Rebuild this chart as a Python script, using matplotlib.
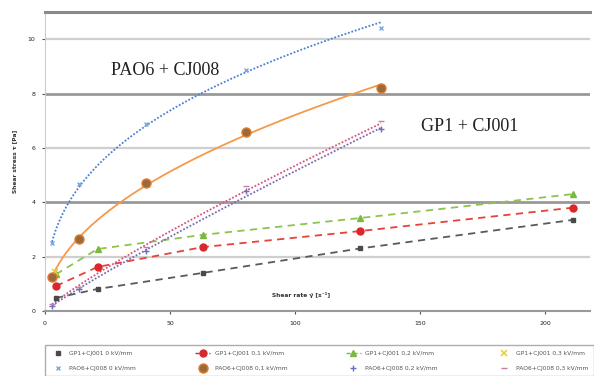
import numpy as np
import matplotlib
matplotlib.use("Agg")
import matplotlib.pyplot as plt
from matplotlib.lines import Line2D

# --- dados (taxa de cisalhamento x tensão) ---
GAMA_GP1 = [4.4, 21, 63, 126, 211]
TAU_GP1_0 = [0.48, 0.81, 1.4, 2.3, 3.35]
TAU_GP1_01 = [0.92, 1.62, 2.35, 2.94, 3.8]
TAU_GP1_02 = [1.35, 2.28, 2.8, 3.42, 4.3]
GAMA_GP1_03 = [4.0]
TAU_GP1_03 = [1.42]

GAMA_PAO = [2.8, 13.6, 40.5, 80.5, 134.4]
TAU_PAO_0 = [2.5, 4.67, 6.87, 8.86, 10.4]
TAU_PAO_01 = [1.25, 2.65, 4.7, 6.58, 8.2]
TAU_PAO_02 = [0.2, 0.8, 2.2, 4.4, 6.7]
TAU_PAO_03 = [0.25, 0.9, 2.35, 4.6, 7.0]

LABELS = [
    "GP1+CJ001 0 kV/mm", "GP1+CJ001 0,1 kV/mm", "GP1+CJ001 0,2 kV/mm", "GP1+CJ001 0,3 kV/mm",
    "PAO6+CJ008 0 kV/mm", "PAO6+CJ008 0,1 kV/mm", "PAO6+CJ008 0,2 kV/mm", "PAO6+CJ008 0,3 kV/mm",
]
X_TICKS = [0, 50, 100, 150, 200]
Y_TICKS = [0, 2, 4, 6, 8, 10]


def tendencia_potencia(x, y, n=200):
    """Linha de tendência tipo potência (como no Excel) a partir dos pontos."""
    b, log_a = np.polyfit(np.log(x), np.log(y), 1)
    xs = np.linspace(min(x), max(x), n)
    return xs, np.exp(log_a) * xs ** b


fig = plt.figure(figsize=(5.94, 3.76), dpi=100)
ax = fig.add_axes([45 / 594, 65 / 376, 545 / 594, 299 / 376])

# GP1: tracejado ligando os pontos
for y, cor in [(TAU_GP1_0, "#5a5a5a"), (TAU_GP1_01, "#e8413a"), (TAU_GP1_02, "#8cc44e")]:
    ax.plot(GAMA_GP1, y, color=cor, linestyle=(0, (4, 3)), linewidth=1.3, zorder=2)

# PAO6: linhas de tendência (potência)
for y, cor, estilo in [(TAU_PAO_0, "#4a7fd6", (0, (1, 1))), (TAU_PAO_01, "#f59a4a", "-"),
                       (TAU_PAO_02, "#7a6bb0", (0, (1, 1))), (TAU_PAO_03, "#d9537a", (0, (1, 1)))]:
    xs, ys = tendencia_potencia(GAMA_PAO, y)
    ax.plot(xs, ys, color=cor, linestyle=estilo, linewidth=1.3, zorder=2)

# pontos medidos
estilos_pontos = [
    (GAMA_GP1, TAU_GP1_0, dict(marker="s", color="#4a4a4a", markersize=2.5)),
    (GAMA_GP1, TAU_GP1_01, dict(marker="o", color="#d8282a", markersize=5)),
    (GAMA_GP1, TAU_GP1_02, dict(marker="^", color="#7cb83e", markersize=4)),
    (GAMA_GP1_03, TAU_GP1_03, dict(marker="x", color="#e2d23c", markersize=4, markeredgewidth=1.2)),
    (GAMA_PAO, TAU_PAO_0, dict(marker="x", color="#7ea9e0", markersize=3.5, markeredgewidth=1)),
    (GAMA_PAO, TAU_PAO_01, dict(marker="o", markerfacecolor="#9a6a3a", markeredgecolor="#e07a30",
                                markersize=6.5, markeredgewidth=1)),
    (GAMA_PAO, TAU_PAO_02, dict(marker="+", color="#6a70c0", markersize=4)),
    (GAMA_PAO, TAU_PAO_03, dict(marker="_", color="#c080a8", markersize=4)),
]
handles = []
for i, (x, y, kw) in enumerate(estilos_pontos):
    ax.plot(x, y, linestyle="none", zorder=3, **kw)
    # GP1 0,1 e 0,2 aparecem na legenda com a linha tracejada
    if i in (1, 2):
        handles.append(Line2D([], [], linestyle=(0, (3, 2)), linewidth=1.0, **kw))
    else:
        handles.append(Line2D([], [], linestyle="none", **kw))

ax.set_xlim(0, 218)
ax.set_ylim(0, 11)
ax.set_xticks(X_TICKS)
ax.set_yticks(Y_TICKS)
ax.tick_params(labelsize=4.5, length=2, colors="#555555", labelcolor="#222222", pad=5)

# grelha: 4 e 8 mais escuras
for v in Y_TICKS[1:]:
    escuro = v in (4, 8)
    ax.axhline(v, color="#999999" if escuro else "#cfcfcf",
               linewidth=2.0 if escuro else 1.6, zorder=1)

ax.spines["right"].set_visible(False)
ax.spines["top"].set_color("#8a8a8a")
ax.spines["top"].set_linewidth(2.2)
ax.spines["bottom"].set_color("#999999")
ax.spines["bottom"].set_linewidth(1.5)
ax.spines["left"].set_color("#cccccc")

ax.text(-0.055, 0.5, "Shear stress τ [Pa]", transform=ax.transAxes, rotation=90,
        fontsize=4.2, fontweight="bold", ha="center", va="center", color="#333333")
ax.text(0.47, 0.055, "Shear rate γ̇ [s⁻¹]", transform=ax.transAxes,
        fontsize=4.2, fontweight="bold", ha="center", va="center", color="#333333")

ax.text(48, 8.85, "PAO6 + CJ008", fontsize=13, family="Liberation Serif",
        ha="center", va="center", color="#222222")
ax.text(170, 6.8, "GP1 + CJ001", fontsize=13, family="Liberation Serif",
        ha="center", va="center", color="#222222")

# legenda em 2 linhas x 4 colunas (preenchimento por coluna)
ordem = [0, 4, 1, 5, 2, 6, 3, 7]
leg = fig.legend([handles[i] for i in ordem], [LABELS[i] for i in ordem], ncol=4,
                 fontsize=4.3, loc="lower left",
                 bbox_to_anchor=(45 / 594, 0.0, 549 / 594, 44 / 376), mode="expand",
                 frameon=True, fancybox=False, edgecolor="#999999", borderaxespad=0,
                 handlelength=2.4, labelspacing=1.6, borderpad=0.9)
leg.get_frame().set_linewidth(1.0)
for t in leg.get_texts():
    t.set_color("#555555")

fig.savefig("out.png", dpi=100)
